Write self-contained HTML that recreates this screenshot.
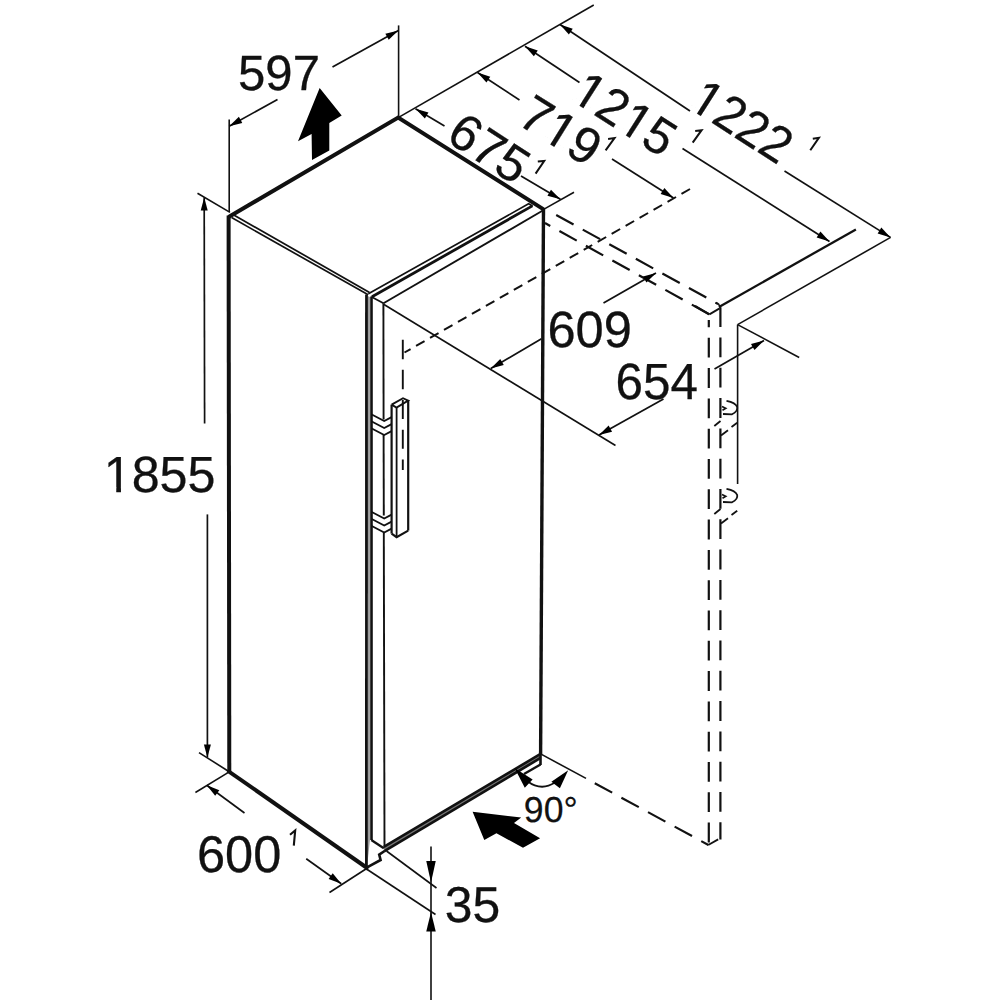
<!DOCTYPE html>
<html><head><meta charset="utf-8"><style>
html,body{margin:0;padding:0;background:#fff;}
svg{display:block;}
text{font-family:"Liberation Sans",sans-serif;fill:#111;stroke:#111;font-kerning:none;text-rendering:geometricPrecision;}
</style></head><body>
<svg width="1000" height="1000" viewBox="0 0 1000 1000">
<rect width="1000" height="1000" fill="#fff"/>
<g stroke="#111" fill="none">
<polyline points="228.6,217.0 398.2,117.6 543.6,209.4" fill="none" stroke-width="4.0" stroke-linejoin="miter" stroke-linecap="butt"/>
<line x1="228.6" y1="215.5" x2="229.3" y2="772" stroke-width="4.0" stroke-linecap="butt"/>
<polyline points="229.3,771.8 366.6,867.6" fill="none" stroke-width="4.0" stroke-linejoin="miter" stroke-linecap="square"/>
<line x1="543.5" y1="208" x2="540.6" y2="754" stroke-width="3.4" stroke-linecap="butt"/>
<line x1="231.6" y1="213.8" x2="369.5" y2="292.4" stroke-width="1.7" stroke-linecap="butt"/>
<line x1="231.6" y1="217.6" x2="368.2" y2="294.8" stroke-width="1.7" stroke-linecap="butt"/>
<polygon points="367.6,296 369.9,297 369.9,840 367.6,862" fill="#9a9a9a" stroke="none"/>
<line x1="366.5" y1="294.5" x2="366.4" y2="868" stroke-width="2.8" stroke-linecap="butt"/>
<line x1="371.5" y1="296.5" x2="371.5" y2="840" stroke-width="2.6" stroke-linecap="butt"/>
<polyline points="368.4,293.8 528.6,203.8 532.6,206.0" fill="none" stroke-width="1.7" stroke-linejoin="miter" stroke-linecap="butt"/>
<line x1="372.0" y1="296.8" x2="532.4" y2="205.9" stroke-width="2.8" stroke-linecap="butt"/>
<line x1="383.5" y1="303.2" x2="542.4" y2="210.8" stroke-width="1.9" stroke-linecap="butt"/>
<line x1="371.3" y1="296.8" x2="383.5" y2="303.2" stroke-width="1.7" stroke-linecap="butt"/>
<line x1="383.4" y1="303.2" x2="383.6" y2="419.5" stroke-width="1.9" stroke-linecap="butt"/>
<line x1="383.6" y1="434.5" x2="383.8" y2="515.5" stroke-width="1.9" stroke-linecap="butt"/>
<line x1="383.8" y1="532" x2="384.5" y2="848.5" stroke-width="1.9" stroke-linecap="butt"/>
<polygon points="383.8,846.8 540.6,753.9 540.6,757.9 384.4,851.2" fill="#777" stroke="none"/>
<line x1="383.8" y1="846.8" x2="540.6" y2="753.9" stroke-width="2.6" stroke-linecap="butt"/>
<line x1="384.4" y1="851.2" x2="540.6" y2="757.9" stroke-width="2.6" stroke-linecap="butt"/>
<line x1="540.5" y1="754" x2="540.5" y2="765.0" stroke-width="2.6" stroke-linecap="butt"/>
<line x1="540.5" y1="764.5" x2="524.0" y2="774.0" stroke-width="2.4" stroke-linecap="butt"/>
<polyline points="371.3,840 383.8,848.2" fill="none" stroke-width="2.3" stroke-linejoin="miter" stroke-linecap="butt"/>
<polyline points="366.6,867.6 380.6,860.0 379.2,854.6 384.6,851.0" fill="none" stroke-width="2.6" stroke-linejoin="miter" stroke-linecap="butt"/>
<polyline points="391.6,404.6 403.0,398.2 408.2,400.6 396.5,407.6 391.6,404.6" fill="none" stroke-width="1.9" stroke-linejoin="miter" stroke-linecap="butt"/>
<line x1="391.6" y1="404.6" x2="391.6" y2="533.6" stroke-width="2.2" stroke-linecap="butt"/>
<line x1="396.6" y1="407.6" x2="396.6" y2="537.2" stroke-width="1.8" stroke-linecap="butt"/>
<line x1="408.2" y1="400.6" x2="408.2" y2="530.6" stroke-width="2.2" stroke-linecap="butt"/>
<polyline points="391.6,533.6 396.6,537.2 408.2,530.6" fill="none" stroke-width="2.2" stroke-linejoin="miter" stroke-linecap="butt"/>
<line x1="402.8" y1="398.6" x2="402.8" y2="470" stroke-width="1.9" stroke-linecap="butt" stroke-dasharray="19 10.8" stroke-dashoffset="-1.4"/>
<polyline points="371.3,414.3 384.2,421.1 391.6,417.1" fill="none" stroke-width="1.8" stroke-linejoin="miter" stroke-linecap="butt"/>
<polyline points="371.3,421.3 384.2,428.1 391.6,424.1" fill="none" stroke-width="1.8" stroke-linejoin="miter" stroke-linecap="butt"/>
<polyline points="371.3,428.3 384.2,435.1 391.6,431.1" fill="none" stroke-width="1.8" stroke-linejoin="miter" stroke-linecap="butt"/>
<polyline points="371.3,511.8 384.2,518.6 391.6,514.6" fill="none" stroke-width="1.8" stroke-linejoin="miter" stroke-linecap="butt"/>
<polyline points="371.3,518.8 384.2,525.5999999999999 391.6,521.5999999999999" fill="none" stroke-width="1.8" stroke-linejoin="miter" stroke-linecap="butt"/>
<polyline points="371.3,525.8 384.2,532.5999999999999 391.6,528.5999999999999" fill="none" stroke-width="1.8" stroke-linejoin="miter" stroke-linecap="butt"/>
<polygon points="319.65,88.0 341.7,115.5 329.3,123.1 329.3,150.6 312,160.1 311.6,133.9 298.0,141.2" fill="#000" stroke="none"/>
<polygon points="472.6,811.7 521.2,817.55 514.0,822.95 540.1,838.25 523.0,847.7 496.45,833.3 484.3,840.05" fill="#000" stroke="none"/>
<line x1="398.6" y1="25.4" x2="398.6" y2="116" stroke-width="1.6" stroke-linecap="butt"/>
<line x1="229.2" y1="119.5" x2="229.2" y2="212" stroke-width="1.6" stroke-linecap="butt"/>
<line x1="229.2" y1="126.2" x2="277.5" y2="99.5" stroke-width="1.7" stroke-linecap="butt"/>
<polygon points="229.2,126.2 238.88,116.85 242.27,122.97" fill="#000" stroke="none"/>
<line x1="332.5" y1="67" x2="398.4" y2="30.4" stroke-width="1.7" stroke-linecap="butt"/>
<polygon points="398.4,30.4 388.73,39.77 385.34,33.65" fill="#000" stroke="none"/>
<text transform="translate(238.034 90.017) rotate(0.01) scale(0.99341 1)" font-size="49.434" stroke-width="0.29">597</text>
<line x1="197.5" y1="193.2" x2="230.0" y2="212.4" stroke-width="1.6" stroke-linecap="butt"/>
<line x1="199.0" y1="752.6" x2="228.4" y2="771.2" stroke-width="1.6" stroke-linecap="butt"/>
<line x1="204.2" y1="197.5" x2="204.6" y2="423.6" stroke-width="1.7" stroke-linecap="butt"/>
<polygon points="204.2,197.5 207.72,210.49 200.72,210.51" fill="#000" stroke="none"/>
<line x1="207.4" y1="514.4" x2="207.4" y2="757.4" stroke-width="1.7" stroke-linecap="butt"/>
<polygon points="207.4,757.4 203.9,744.4 210.9,744.4" fill="#000" stroke="none"/>
<clipPath id="c1"><path clip-rule="evenodd" d="M-25.42,-61.02H138.54V25.42H-25.42ZM2.98,-4.7H12.66V25.42H2.98ZM17.4,-4.7H26.81V25.42H17.4Z"/></clipPath>
<text transform="translate(103.768 491.903) rotate(0.01) scale(0.98786 1)" font-size="50.847" stroke-width="0.298" clip-path="url(#c1)">1855</text>
<line x1="195.4" y1="792.5" x2="228.0" y2="772.6" stroke-width="1.6" stroke-linecap="butt"/>
<line x1="329.5" y1="892.5" x2="366.25" y2="868.75" stroke-width="1.6" stroke-linecap="butt"/>
<line x1="206.8" y1="785.3" x2="244.5" y2="813" stroke-width="1.7" stroke-linecap="butt"/>
<polygon points="206.8,785.3 219.35,790.18 215.2,795.82" fill="#000" stroke="none"/>
<line x1="306.25" y1="858.75" x2="341.25" y2="883.75" stroke-width="1.7" stroke-linecap="butt"/>
<polygon points="341.25,883.75 328.64,879.04 332.71,873.35" fill="#000" stroke="none"/>
<text transform="translate(196.933 871.997) rotate(0.01) scale(0.98056 1)" font-size="51.553" stroke-width="0.302">600</text>
<polyline points="290.0,834.8 295.2,830.4 293.8,845.6" fill="none" stroke-width="2.1" stroke-linejoin="miter" stroke-linecap="butt"/>
<line x1="386.5" y1="851.0" x2="436.5" y2="888.0" stroke-width="1.6" stroke-linecap="butt"/>
<line x1="366.5" y1="869.0" x2="435.5" y2="914.5" stroke-width="1.6" stroke-linecap="butt"/>
<line x1="431.0" y1="846.5" x2="431.0" y2="1000" stroke-width="1.6" stroke-linecap="butt"/>
<polygon points="431.0,882.5 426.25,861.0 435.75,861.0" fill="#000" stroke="none"/>
<polygon points="431.0,912.0 435.75,931.5 426.25,931.5" fill="#000" stroke="none"/>
<text transform="translate(444.752 921.858) rotate(0.01) scale(0.98851 1)" font-size="50.423" stroke-width="0.295">35</text>
<line x1="398.2" y1="117.6" x2="593.75" y2="5" stroke-width="1.6" stroke-linecap="butt"/>
<line x1="543.6" y1="209.4" x2="574.0" y2="192.25" stroke-width="1.6" stroke-linecap="butt"/>
<line x1="415.5" y1="108.75" x2="444.5" y2="126" stroke-width="1.7" stroke-linecap="butt"/>
<polygon points="415.5,108.75 428.46,112.39 424.88,118.4" fill="#000" stroke="none"/>
<line x1="521" y1="176" x2="560.4" y2="199.25" stroke-width="1.7" stroke-linecap="butt"/>
<polygon points="560.4,199.25 547.43,195.66 550.98,189.63" fill="#000" stroke="none"/>
<line x1="477.5" y1="72.5" x2="519.5" y2="100" stroke-width="1.7" stroke-linecap="butt"/>
<polygon points="477.5,72.5 490.29,76.69 486.46,82.55" fill="#000" stroke="none"/>
<line x1="612" y1="159" x2="673.5" y2="198" stroke-width="1.7" stroke-linecap="butt"/>
<polygon points="673.5,198 660.65,193.99 664.4,188.08" fill="#000" stroke="none"/>
<line x1="525" y1="46.25" x2="579.5" y2="82.5" stroke-width="1.7" stroke-linecap="butt"/>
<polygon points="525,46.25 537.76,50.54 533.89,56.36" fill="#000" stroke="none"/>
<line x1="682.5" y1="148.5" x2="829.5" y2="241.5" stroke-width="1.7" stroke-linecap="butt"/>
<polygon points="829.5,241.5 816.64,237.51 820.39,231.59" fill="#000" stroke="none"/>
<line x1="560" y1="24.5" x2="690" y2="111" stroke-width="1.7" stroke-linecap="butt"/>
<polygon points="560,24.5 572.76,28.79 568.88,34.62" fill="#000" stroke="none"/>
<line x1="784.5" y1="171" x2="890.5" y2="237.4" stroke-width="1.7" stroke-linecap="butt"/>
<polygon points="890.5,237.4 877.63,233.46 881.34,227.53" fill="#000" stroke="none"/>
<text transform="translate(444.6 140.0) rotate(33.0) scale(0.98795 1)" font-size="50.995" stroke-width="0.299">675</text>
<polyline points="537.8,161.6 544.2,161.0 535.6,173.6" fill="none" stroke-width="2.0" stroke-linejoin="miter" stroke-linecap="butt"/>
<clipPath id="c2"><path clip-rule="evenodd" d="M-25.56,-61.34H110.85V25.56H-25.56ZM31.42,-4.72H41.16V25.56H31.42ZM45.93,-4.72H55.39V25.56H45.93Z"/></clipPath>
<text transform="translate(515.4 122.88) rotate(31.8) scale(0.99359 1)" font-size="51.118" stroke-width="0.3" clip-path="url(#c2)">719</text>
<polyline points="608.1,139.0 614.5,138.0 605.6,150.3" fill="none" stroke-width="2.0" stroke-linejoin="miter" stroke-linecap="butt"/>
<clipPath id="c3"><path clip-rule="evenodd" d="M-25.53,-61.27H139.11V25.53H-25.53ZM2.99,-4.71H12.71V25.53H2.99ZM17.48,-4.71H26.92V25.53H17.48ZM59.78,-4.71H69.5V25.53H59.78ZM74.27,-4.71H83.71V25.53H74.27Z"/></clipPath>
<text transform="translate(569.06 99.0) rotate(32.5) scale(0.97152 1)" font-size="51.057" stroke-width="0.299" clip-path="url(#c3)">1215</text>
<polyline points="695.2,131.0 701.6,130.2 692.7,142.7" fill="none" stroke-width="2.0" stroke-linejoin="miter" stroke-linecap="butt"/>
<clipPath id="c4"><path clip-rule="evenodd" d="M-25.61,-61.46H139.56V25.61H-25.61ZM3.0,-4.73H12.76V25.61H3.0ZM17.53,-4.73H27.01V25.61H17.53Z"/></clipPath>
<text transform="translate(686.76 107.05) rotate(32.44) scale(0.95242 1)" font-size="51.22" stroke-width="0.3" clip-path="url(#c4)">1222</text>
<polyline points="812.8,138.7 818.9,137.8 810.3,150.3" fill="none" stroke-width="2.0" stroke-linejoin="miter" stroke-linecap="butt"/>
<line x1="690" y1="189" x2="404.5" y2="352.5" stroke-width="2.0" stroke-linecap="butt" stroke-dasharray="9.8 6.3" stroke-dashoffset="0"/>
<line x1="402.8" y1="339.8" x2="402.8" y2="398" stroke-width="1.9" stroke-linecap="butt" stroke-dasharray="19.5 10.5" stroke-dashoffset="0"/>
<line x1="556.2" y1="215" x2="718" y2="304" stroke-width="2.2" stroke-linecap="butt" stroke-dasharray="19.8 10.5" stroke-dashoffset="0"/>
<line x1="545" y1="223" x2="709.4" y2="314.4" stroke-width="2.2" stroke-linecap="butt" stroke-dasharray="19.8 10.5" stroke-dashoffset="13.8"/>
<line x1="695" y1="306" x2="709.4" y2="314.4" stroke-width="2.2" stroke-linecap="butt"/>
<line x1="709.4" y1="314.4" x2="719.6" y2="308.4" stroke-width="1.8" stroke-linecap="butt"/>
<line x1="719.0" y1="307.0" x2="855.9" y2="229.4" stroke-width="2.3" stroke-linecap="butt"/>
<line x1="890.6" y1="237.4" x2="737.6" y2="324.6" stroke-width="1.6" stroke-linecap="butt"/>
<line x1="737.6" y1="324.6" x2="737.6" y2="484" stroke-width="1.6" stroke-linecap="butt"/>
<line x1="737.6" y1="324.6" x2="799.2" y2="357.5" stroke-width="1.6" stroke-linecap="butt"/>
<line x1="708.8" y1="319.9" x2="708.8" y2="844.4" stroke-width="2.2" stroke-linecap="butt" stroke-dasharray="19.8 10.5" stroke-dashoffset="12.4"/>
<line x1="720.4" y1="307.2" x2="720.4" y2="839.6" stroke-width="2.2" stroke-linecap="butt" stroke-dasharray="19.8 10.5" stroke-dashoffset="0"/>
<polyline points="715.6,302.6 718.6,304.0 720.4,308" fill="none" stroke-width="1.6" stroke-linejoin="miter" stroke-linecap="butt"/>
<line x1="540.6" y1="753.9" x2="586.0" y2="778.4" stroke-width="1.6" stroke-linecap="butt"/>
<line x1="586.0" y1="778.4" x2="708.4" y2="845.0" stroke-width="2.2" stroke-linecap="butt" stroke-dasharray="19.8 10.5" stroke-dashoffset="20.3"/>
<line x1="708.2" y1="845.0" x2="718.2" y2="839.4" stroke-width="1.8" stroke-linecap="butt"/>
<line x1="490.8" y1="368.6" x2="541.5" y2="338.8" stroke-width="1.7" stroke-linecap="butt"/>
<polygon points="490.8,368.6 500.23,359.0 503.78,365.03" fill="#000" stroke="none"/>
<line x1="603.5" y1="303" x2="656" y2="273" stroke-width="1.7" stroke-linecap="butt"/>
<polygon points="656,273 646.45,282.49 642.98,276.41" fill="#000" stroke="none"/>
<text transform="translate(547.429 346.503) rotate(0.01) scale(0.99567 1)" font-size="50.847" stroke-width="0.298">609</text>
<line x1="599" y1="435" x2="663.5" y2="399" stroke-width="1.7" stroke-linecap="butt"/>
<polygon points="599,435 608.65,425.61 612.06,431.72" fill="#000" stroke="none"/>
<line x1="714.5" y1="369" x2="764" y2="340.5" stroke-width="1.7" stroke-linecap="butt"/>
<polygon points="764,340.5 754.48,350.02 750.99,343.95" fill="#000" stroke="none"/>
<text transform="translate(615.49 398.503) rotate(0.01) scale(0.97197 1)" font-size="50.847" stroke-width="0.298">654</text>
<line x1="384.0" y1="304.5" x2="615.5" y2="445.5" stroke-width="1.6" stroke-linecap="butt"/>
<path d="M527.5,781.2 Q541,791.5 555,782.6" fill="none" stroke-width="1.8"/>
<polygon points="514.6,768.0 524.8,787.8 532.6,779.4" fill="#000" stroke="none"/>
<polygon points="568.2,770.2 551.4,781.8 559.9,788.2" fill="#000" stroke="none"/>
<text transform="translate(523.831 822.448) rotate(0.01) scale(0.98694 1)" font-size="36.087" stroke-width="0.211">90°</text>
<path d="M726.5,400.8 Q735.5,402.5 737.2,407 Q738,411.5 732,414.3 L723,414" fill="none" stroke-width="1.8"/>
<polyline points="722,406.5 725.8,408.3 722.5,410.3" fill="none" stroke-width="1.6" stroke-linejoin="miter" stroke-linecap="butt"/>
<line x1="714.3" y1="426" x2="720.5" y2="421" stroke-width="1.8" stroke-linecap="butt"/>
<line x1="721" y1="435.5" x2="728" y2="430.2" stroke-width="1.8" stroke-linecap="butt"/>
<line x1="731.5" y1="427" x2="737.2" y2="422.8" stroke-width="1.8" stroke-linecap="butt"/>
<path d="M726.5,488.8 Q735.5,490.5 737.2,495 Q738,499.5 732,502.3 L723,502" fill="none" stroke-width="1.8"/>
<polyline points="722,494.5 725.8,496.3 722.5,498.3" fill="none" stroke-width="1.6" stroke-linejoin="miter" stroke-linecap="butt"/>
<line x1="714.3" y1="514" x2="720.5" y2="509" stroke-width="1.8" stroke-linecap="butt"/>
<line x1="721" y1="523.5" x2="728" y2="518.2" stroke-width="1.8" stroke-linecap="butt"/>
<line x1="731.5" y1="515" x2="737.2" y2="510.8" stroke-width="1.8" stroke-linecap="butt"/>
</g>
</svg>
</body></html>
